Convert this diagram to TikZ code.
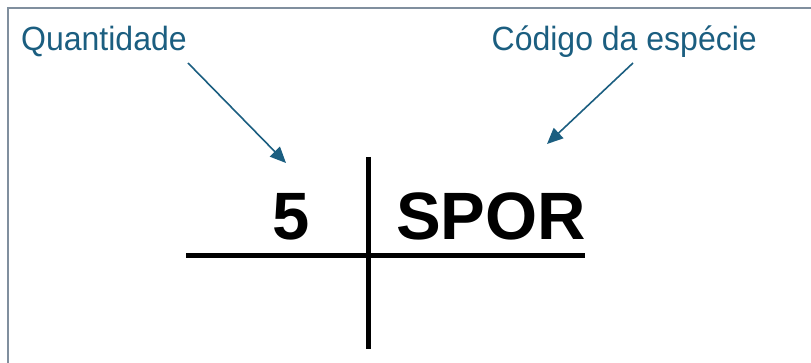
\documentclass[tikz,border=0pt]{standalone}
\usepackage{fontspec}
\setmainfont{Liberation Sans}
\usetikzlibrary{arrows.meta}
\definecolor{labelblue}{RGB}{27,94,128}
\definecolor{framegray}{RGB}{128,143,158}
\tikzset{
  lbl/.style={inner sep=0pt, anchor=base west, text=labelblue, font=\fontsize{32}{36}\selectfont},
  big/.style={inner sep=0pt, anchor=base west, text=black, font=\fontsize{67}{76}\selectfont\bfseries},
  pointer/.style={draw=labelblue, line width=1.6pt, -{Triangle[length=16pt,width=14pt]}},
  rule/.style={draw=black, line width=5pt},
  frameline/.style={draw=framegray, line width=2pt}
}
\begin{document}
\begin{tikzpicture}[x=1pt,y=-1pt]
\useasboundingbox (0,0) rectangle (811,363);
% frame
\coordinate (fc) at (8,8);
\coordinate (fr) at (811,8);
\coordinate (fb) at (8,363);
\draw[frameline] (fb) -- (fc) -- (fr);
% labels
\node[lbl] (qt) at (21,51) {\scalebox{1}[1.05]{Quantidade}};
\node[lbl] (cd) at (491.5,51) {\scalebox{1}[1.05]{Código da espécie}};
% values
\node[big] (five) at (272,240) {5};
\node[big] (spor) at (396,240) {SPOR};
% cross lines
\coordinate (hl) at (186,256);
\coordinate (hr) at (585,256);
\coordinate (vt) at (368,157);
\coordinate (vb) at (368,349);
\draw[rule] (hl) -- (hr);
\draw[rule] (vt) -- (vb);
% pointers
\coordinate (a1s) at (188,63);
\coordinate (a1e) at (286,163);
\coordinate (a2s) at (633,63);
\coordinate (a2e) at (547,144);
\draw[pointer] (a1s) -- (a1e);
\draw[pointer] (a2s) -- (a2e);
\end{tikzpicture}
\end{document}
